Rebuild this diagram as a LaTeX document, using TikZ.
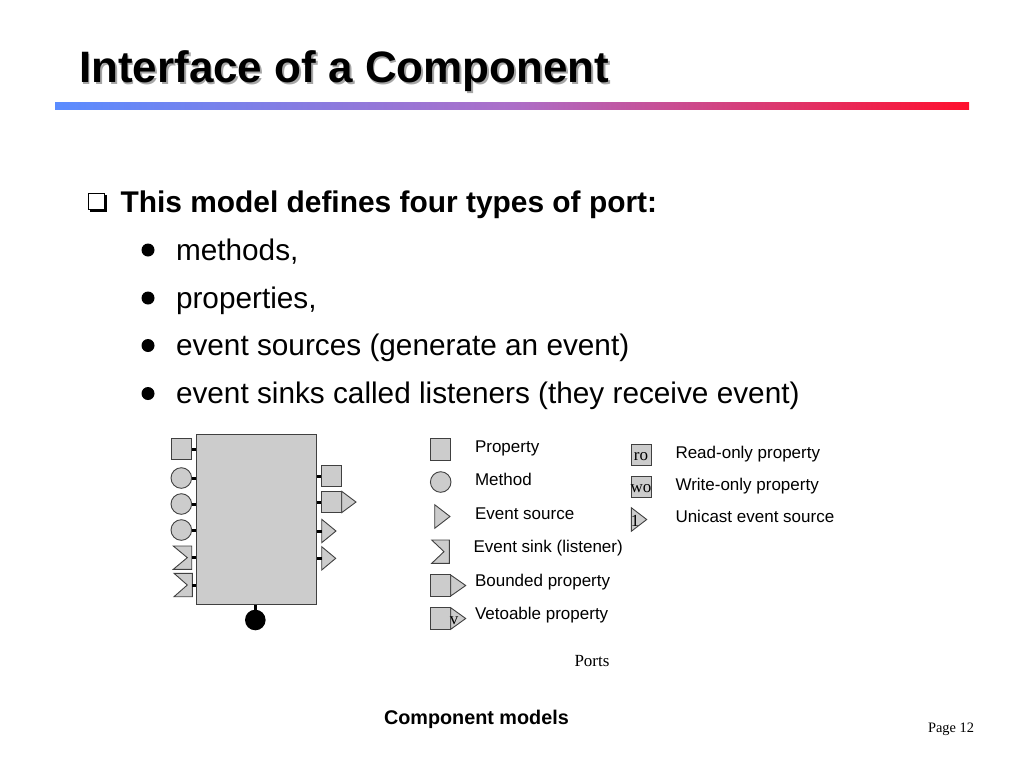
\documentclass[tikz,border=0pt]{standalone}
\usepackage{fontspec}
\setmainfont{Liberation Sans}
\newfontfamily\timesf{Liberation Serif}
\newcommand{\fs}[1]{\fontsize{#1}{#1}\selectfont}
\tikzset{
  x=1pt,y=-1pt,
  txt/.style={inner sep=0pt,outer sep=0pt,anchor=base west,text=black},
  titletxt/.style={txt,font=\fs{44}\bfseries},
  headtxt/.style={txt,font=\fs{29.9}\bfseries},
  subtxt/.style={txt,font=\fs{29.76}},
  leg/.style={txt,font=\fs{17}},
  port/.style={draw=black!75,line width=0.9pt,fill=black!20,line join=miter},
  sq/.style={port,rectangle,inner sep=0pt,minimum width=20.4pt,minimum height=21.4pt},
  circ/.style={port,circle,inner sep=0pt,minimum size=20.6pt},
  stub/.style={line width=3pt,draw=black},
  dot/.style={circle,fill=black,inner sep=0pt,minimum size=13pt},
  sertxt/.style={inner sep=0pt,font=\timesf\fs{17}},
}
\newcommand{\tri}[5]{% name, x, ytop, ybot, tipx
  \draw[port] (#2,#3) -- (#5,{(#3+#4)/2}) -- (#2,#4) -- cycle;
  \coordinate (#1) at (#2,{(#3+#4)/2});
  \coordinate (#1t) at (#5,{(#3+#4)/2});}
\newcommand{\snk}[6]{% name, xl, xr, ytop, ybot, notchx
  \draw[port] (#2,#4) -- (#3,#4) -- (#3,#5) -- (#2,#5) -- (#6,{(#4+#5)/2}) -- cycle;
  \coordinate (#1) at (#3,{(#4+#5)/2});}
\begin{document}
\begin{tikzpicture}
\useasboundingbox (0,0) rectangle (1024,768);
% title
\node[titletxt,text=black!35] at (80.8,84) {Interface of a Component};
\node[titletxt] (title) at (79,82.5) {Interface of a Component};
\shade[left color={rgb,255:red,90;green,140;blue,255},right color={rgb,255:red,255;green,15;blue,45},middle color={rgb,255:red,172;green,110;blue,200}] (55,102) rectangle (969,109.5);
% bullets
\draw[black,line width=1pt,fill=white] (88.5,193.5) rectangle (104.5,209.5);
\draw[black,line width=2pt] (90,211) -- (106,211) -- (106,195);
\node[headtxt] (head) at (120.5,212) {This model defines four types of port:};
\foreach \y/\t/\n in {250/{methods,}/a,298/{properties,}/b,345.5/{event sources (generate an event)}/c,393.5/{event sinks called listeners (they receive event)}/d}{
  \node[dot] (dot\n) at (148,\y) {};
  \node[subtxt] (item\n) at (176,\y+10) {\t};
}
% component
\node[port,rectangle,inner sep=0pt,minimum width=120.5pt,minimum height=169.5pt] (comp) at (256.2,519.5) {};
% left ports
\node[sq] (pa) at (181.5,449.2) {};
\node[circ] (pb) at (181.3,478) {};
\node[circ] (pc) at (181.3,504) {};
\node[circ] (pd) at (181.3,530) {};
\snk{pe}{173.3}{191.7}{546}{569.3}{187.3}
\snk{pf}{174}{192.3}{573.3}{596.7}{187.3}
\draw[stub] (pa.east) -- (pa.east -| comp.west);
\draw[stub] (pb.east) -- (pb.east -| comp.west);
\draw[stub] (pc.east) -- (pc.east -| comp.west);
\draw[stub] (pd.east) -- (pd.east -| comp.west);
\draw[stub] (pe) -- (pe -| comp.west);
\draw[stub] (pf) -- (pf -| comp.west);
% right ports
\node[sq] (qa) at (331.7,476) {};
\node[sq] (qb) at (331.7,502) {};
\tri{qbt}{341.7}{491.3}{512.7}{356}
\tri{qc}{321.7}{519.3}{542.7}{336}
\tri{qd}{321.7}{546.7}{570}{335.7}
\draw[stub] (qa.west) -- (qa.west -| comp.east);
\draw[stub] (qb.west) -- (qb.west -| comp.east);
\draw[stub] (qc) -- (qc -| comp.east);
\draw[stub] (qd) -- (qd -| comp.east);
% bottom port
\node[circle,fill=black,inner sep=0pt,minimum size=20.6pt] (bot) at (255.3,620) {};
\draw[stub] (bot.north) -- (bot.north |- comp.south);
% legend 1
\node[sq] (la) at (440.7,449.3) {};
\node[circ] (lb) at (440.7,482) {};
\tri{lc}{434.7}{504.7}{528.3}{450}
\snk{ld}{431.7}{449.3}{540}{563.3}{444}
\node[sq] (le) at (440.5,585.5) {};
\tri{let}{450.7}{575}{596}{465.7}
\node[sq] (lf) at (440.5,618.5) {};
\tri{lft}{450.7}{607.7}{629.3}{465.7}
\node[sertxt] (vv) at (454,620.5) {v};
\node[leg] (ta) at (475,452.5) {Property};
\node[leg] (tb) at (475,485.5) {Method};
\node[leg] (tc) at (475,519) {Event source};
\node[leg] (td) at (473.5,552) {Event sink (listener)};
\node[leg] (te) at (475,586) {Bounded property};
\node[leg] (tf) at (475,619) {Vetoable property};
% legend 2
\node[sq] (ra) at (641.3,454.8) {};
\node[sertxt] (roT) at (641,456.8) {ro};
\node[sq] (rb) at (641.3,486.8) {};
\node[sertxt] (woT) at (641,488.8) {wo};
\tri{rc}{631.3}{507.7}{531.3}{646.7}
\node[sertxt] (oneT) at (635,521) {1};
\node[leg] (tg) at (675.5,458) {Read-only property};
\node[leg] (th) at (675.5,490) {Write-only property};
\node[leg] (ti) at (675.5,522) {Unicast event source};
% captions
\node[txt,font=\timesf\fs{17}] (ports) at (574.5,666) {Ports};
\node[txt,font=\fs{19.8}\bfseries] (cm) at (384,724) {Component models};
\node[txt,font=\timesf\fs{14.4}] (pg) at (928,732) {Page 12};
\end{tikzpicture}
\end{document}
